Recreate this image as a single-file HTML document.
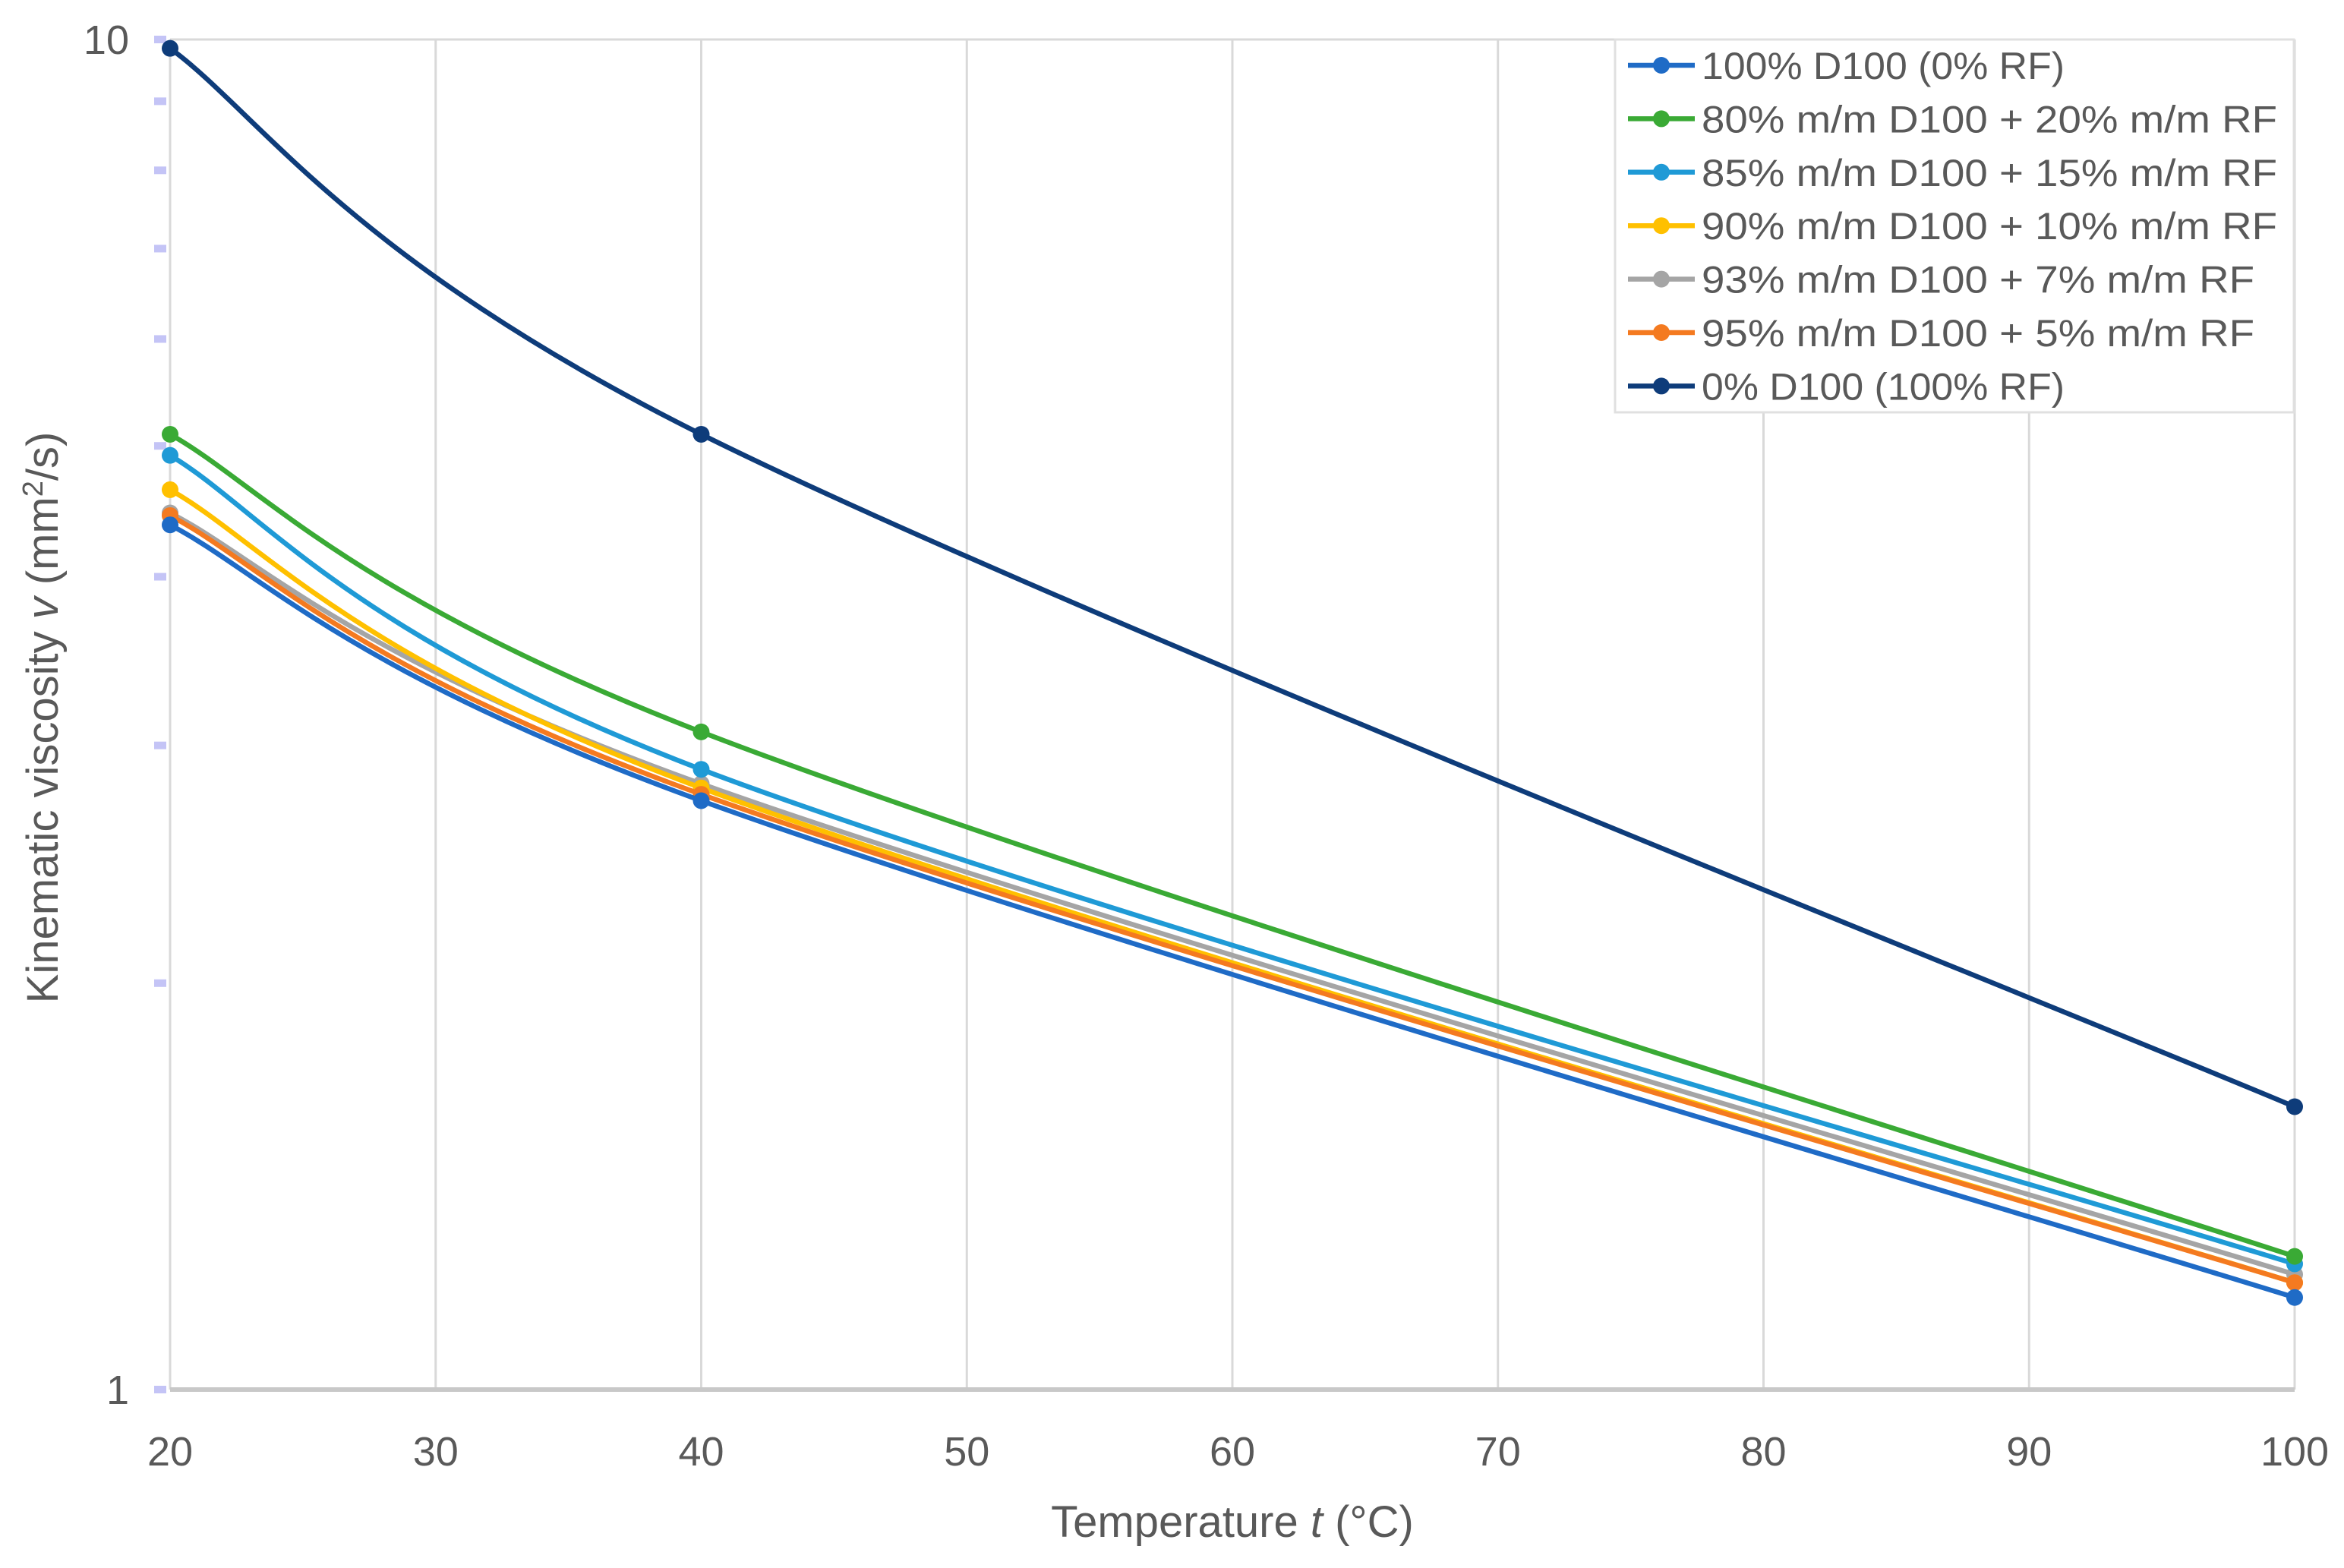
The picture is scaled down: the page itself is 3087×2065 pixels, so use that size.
<!DOCTYPE html>
<html><head><meta charset="utf-8"><style>
html,body{margin:0;padding:0;background:#fff;}
svg{display:block;font-family:"Liberation Sans",sans-serif;}
</style></head><body>
<svg id="chart" width="3087" height="2065" viewBox="0 0 3087 2065" xmlns="http://www.w3.org/2000/svg">
<g id="grid"></g>
<g id="axes"></g>
<g id="series"></g>
<g id="legend"></g>
<text x="1623" y="2024" font-size="58" fill="#595959" text-anchor="middle">Temperature <tspan font-style="italic">t</tspan> (°C)</text>
<text transform="translate(76,945) rotate(-90)" font-size="58" fill="#595959" text-anchor="middle">Kinematic viscosity <tspan font-style="italic">v</tspan> (mm<tspan font-size="38" dy="-20">2</tspan><tspan dy="20">/s)</tspan></text>
</svg>
<script>
const temps = [20, 40, 100];
const xTicks = [20, 30, 40, 50, 60, 70, 80, 90, 100];
const yTicks = [1, 10];
const seriesNames = ["100% D100 (0% RF)","80% m/m D100 + 20% m/m RF","85% m/m D100 + 15% m/m RF","90% m/m D100 + 10% m/m RF","93% m/m D100 + 7% m/m RF","95% m/m D100 + 5% m/m RF","0% D100 (100% RF)"];
const s100 = [4.37, 2.73, 1.17];
const s80 = [5.10, 3.07, 1.255];
const s85 = [4.92, 2.88, 1.239];
const s90 = [4.64, 2.79, 1.20];
const s93 = [4.46, 2.81, 1.217];
const s95 = [4.44, 2.76, 1.20];
const s0 = [9.85, 5.10, 1.62];
const seriesValues = [s100, s80, s85, s90, s93, s95, s0];
const colors = ["#1f6bc6","#3aaa35","#1f9ad6","#ffc000","#a5a5a5","#f47a20","#0e3c7a"];
const drawOrder = [4,3,2,1,5,0,6];

const NS = "http://www.w3.org/2000/svg";
const L = 224, R = 3022, T = 52, B = 1830;
const xs = t => L + (t - 20) / 80 * (R - L);
const ys = v => B - (B - T) * Math.log10(v);
function mk(tag, attrs, parent) {
  const e = document.createElementNS(NS, tag);
  for (const k in attrs) e.setAttribute(k, attrs[k]);
  parent.appendChild(e);
  return e;
}
const grid = document.getElementById('grid');
const axes = document.getElementById('axes');
xTicks.forEach(t => {
  const l = mk('line', {x1: xs(t), x2: xs(t), y1: T, y2: B, stroke: '#d9d9d9', 'stroke-width': 3}, grid);
  
  
  const tx = mk('text', {x: xs(t), y: 1930, 'font-size': 54, fill: '#595959', 'text-anchor': 'middle'}, axes);
  tx.textContent = t;
  
  
});
const topGrid = mk('line', {x1: L, x2: R, y1: ys(10), y2: ys(10), stroke: '#d9d9d9', 'stroke-width': 3}, grid);


const xa = mk('line', {x1: L, x2: R, y1: B, y2: B, stroke: '#c8c8c8', 'stroke-width': 6}, axes);


for (let v = 1; v <= 10; v++) {
  const r = mk('rect', {x: 203, y: ys(v) - 5, width: 16, height: 10, fill: '#c4c4f6'}, axes);
  
  
}
yTicks.forEach(v => {
  const tx = mk('text', {x: 170, y: ys(v) + 19, 'font-size': 54, fill: '#595959', 'text-anchor': 'end'}, axes);
  tx.textContent = v;
  
  
});
function smoothPath(pts) {
  let d = `M${pts[0][0]},${pts[0][1]}`;
  for (let i = 0; i < pts.length - 1; i++) {
    const p0 = pts[Math.max(0, i - 1)], p1 = pts[i], p2 = pts[i + 1], p3 = pts[Math.min(pts.length - 1, i + 2)];
    const c1 = [p1[0] + (p2[0] - p0[0]) / 6, p1[1] + (p2[1] - p0[1]) / 6];
    const c2 = [p2[0] - (p3[0] - p1[0]) / 6, p2[1] - (p3[1] - p1[1]) / 6];
    d += ` C${c1[0]},${c1[1]} ${c2[0]},${c2[1]} ${p2[0]},${p2[1]}`;
  }
  return d;
}
const sg = document.getElementById('series');
drawOrder.forEach(si => {
  const pts = temps.map((t, i) => [xs(t), ys(seriesValues[si][i])]);
  const p = mk('path', {d: smoothPath(pts), fill: 'none', stroke: colors[si], 'stroke-width': 6.5}, sg);
  
  
  pts.forEach(pt => {
    const c = mk('circle', {cx: pt[0], cy: pt[1], r: 11, fill: colors[si]}, sg);
    
    
  });
});
const lg = document.getElementById('legend');
const box = mk('rect', {x: 2127, y: 52, width: 894, height: 491, fill: '#fff', stroke: '#e0e0e0', 'stroke-width': 3}, lg);


seriesNames.forEach((n, i) => {
  const y = 86 + i * 70.4;
  const g = mk('g', {}, lg);
  
  
  mk('line', {x1: 2144, x2: 2232, y1: y, y2: y, stroke: colors[i], 'stroke-width': 6.5}, g);
  mk('circle', {cx: 2188, cy: y, r: 11, fill: colors[i]}, g);
  const tx = mk('text', {x: 2241, y: y + 18, 'font-size': 50, fill: '#595959'}, g);
  tx.textContent = n;
  tx.setAttribute('textLength', (i === 0 || i === 6) ? 478 : (n.length >= 25 ? 758 : 728));
  tx.setAttribute('lengthAdjust', 'spacingAndGlyphs');
});
</script>
</body></html>
